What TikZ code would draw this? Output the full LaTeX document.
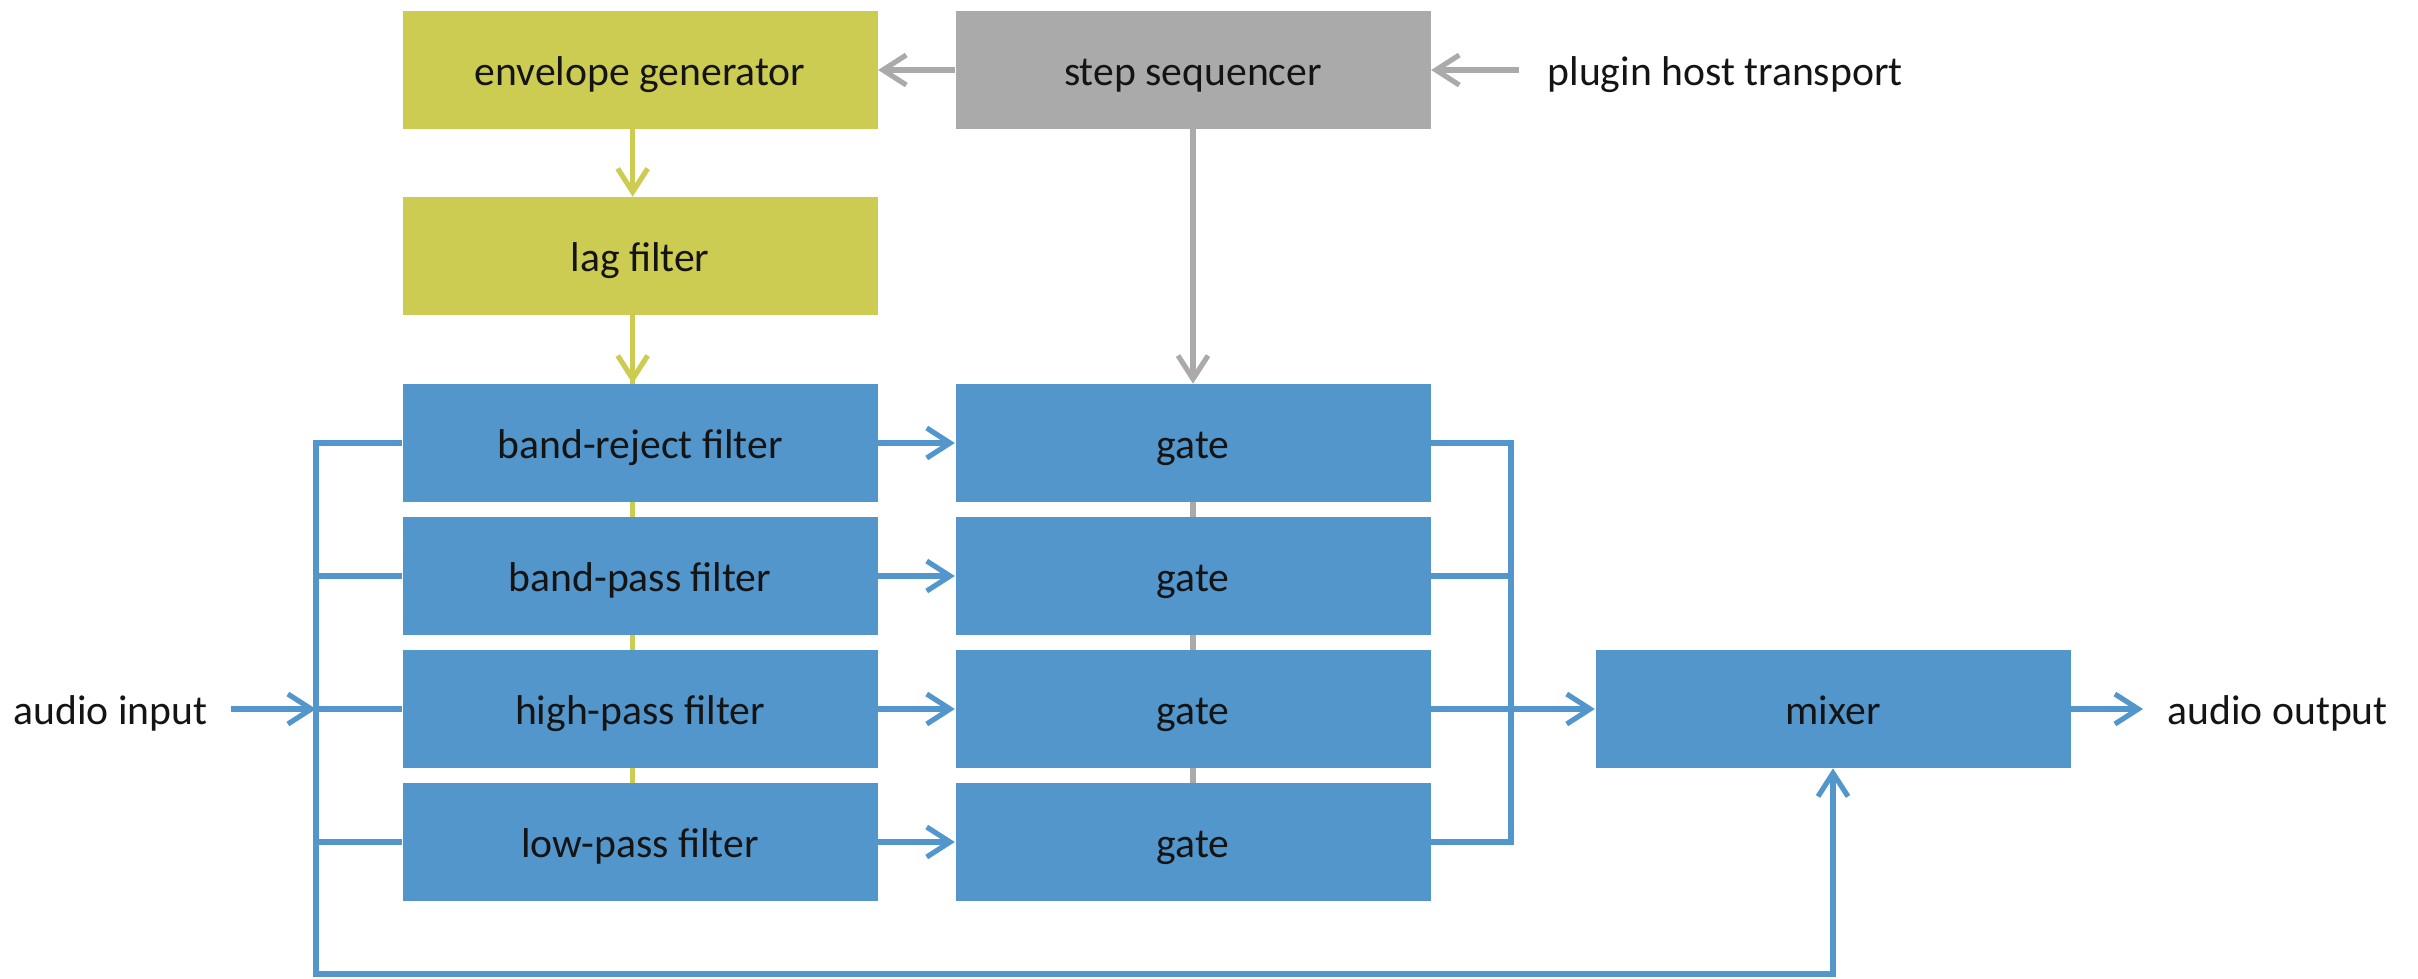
\documentclass[tikz,border=0pt]{standalone}
\usepackage{fontspec}
\setmainfont{Carlito}
\usetikzlibrary{arrows.meta,backgrounds}
\definecolor{sigblue}{RGB}{82,150,204}
\definecolor{ctlgreen}{RGB}{204,204,82}
\definecolor{seqgray}{RGB}{170,170,170}
\begin{document}
\begin{tikzpicture}[x=0.3pt,y=-0.3pt,
  txt/.style={font=\fontsize{12.5}{15}\selectfont,text=black!92,text height=9pt,text depth=0pt},
  block/.style={txt,minimum width=142.5pt,minimum height=35.2pt,inner sep=0pt},
  sigbox/.style={block,fill=sigblue},
  ctlbox/.style={block,fill=ctlgreen},
  seqbox/.style={block,fill=seqgray},
  label/.style={txt,inner sep=0pt},
  tip/.style={-{Straight Barb[length=7pt,width=9pt]}},
  sig/.style={draw=sigblue,line width=1.55pt},
  ctl/.style={draw=ctlgreen,line width=1.55pt},
  seq/.style={draw=seqgray,line width=1.55pt}]
\useasboundingbox (0,0) rectangle (2418,978);

% control chain
\node[ctlbox] (env) at (640,70) {envelope generator};
\node[seqbox] (seqr) at (1193,70) {step sequencer};
\node[ctlbox] (lag) at (640,256) {lag filter};
\node[label,anchor=west] (host) at (1547,70) {plugin host transport};

% filter bank and gates
\node[sigbox] (f1) at (640,443) {band-reject filter};
\node[sigbox] (f2) at (640,576) {band-pass filter};
\node[sigbox] (f3) at (640,709) {high-pass filter};
\node[sigbox] (f4) at (640,842) {low-pass filter};
\node[sigbox] (g1) at (1193,443) {gate};
\node[sigbox] (g2) at (1193,576) {gate};
\node[sigbox] (g3) at (1193,709) {gate};
\node[sigbox] (g4) at (1193,842) {gate};
\node[sigbox] (mix) at (1833,709) {mixer};

\node[label,anchor=east] (ain) at (208,709) {audio input};
\node[label,anchor=west] (aout) at (2167,709) {audio output};

% bus corners
\coordinate (ib1) at (316,443);
\coordinate (ibot) at (316,974);
\coordinate (ob1) at (1511,443);
\coordinate (ob4) at (1511,842);

% control lines running behind the blocks
\begin{scope}[on background layer]
  \draw[ctl] ([xshift=-2.2pt]lag.south) -- ([xshift=-2.2pt]f4.center);
  \draw[seq] (g1.center) -- (g4.center);
\end{scope}

\draw[ctl,tip] ([xshift=-2.2pt]env.south) -- ([xshift=-2.2pt]lag.north);
\draw[ctl,tip] ([xshift=-2.2pt]lag.south) -- ([xshift=-2.2pt]f1.north);
\draw[seq,tip] (seqr.west) -- (env.east);
\draw[seq,tip] ([xshift=-8.4pt]host.west) -- (seqr.east);
\draw[seq,tip] (seqr.south) -- (g1.north);

% input distribution
\draw[sig,tip] ([xshift=7pt]ain.east) -- (ib1 |- f3.west);
\draw[sig,tip] (f1.west) -- (ib1) -- (ibot) -- (ibot -| mix.south) -- (mix.south);
\draw[sig] (f2.west) -- (f2.west -| ib1);
\draw[sig] (f3.west) -- (f3.west -| ib1);
\draw[sig] (f4.west) -- (f4.west -| ib1);

% filters to gates
\draw[sig,tip] (f1.east) -- (g1.west);
\draw[sig,tip] (f2.east) -- (g2.west);
\draw[sig,tip] (f3.east) -- (g3.west);
\draw[sig,tip] (f4.east) -- (g4.west);

% gates to mixer
\draw[sig] (g1.east) -- (ob1) -- (ob4) -- (g4.east);
\draw[sig] (g2.east) -- (g2.east -| ob1);
\draw[sig,tip] (g3.east) -- (mix.west);
\draw[sig,tip] (mix.east) -- ([xshift=-7.2pt]aout.west);
\end{tikzpicture}
\end{document}
